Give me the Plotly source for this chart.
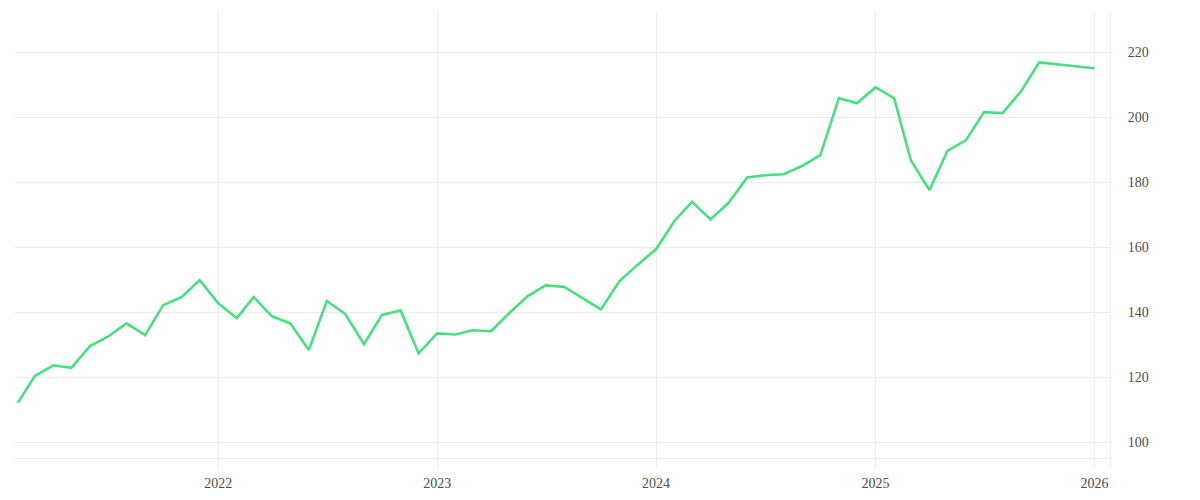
import plotly.graph_objects as go

dates = [
    "2021-02-01", "2021-03-01", "2021-04-01", "2021-05-01", "2021-06-01", "2021-07-01",
    "2021-08-01", "2021-09-01", "2021-10-01", "2021-11-01", "2021-12-01",
    "2022-01-01", "2022-02-01", "2022-03-01", "2022-04-01", "2022-05-01", "2022-06-01",
    "2022-07-01", "2022-08-01", "2022-09-01", "2022-10-01", "2022-11-01", "2022-12-01",
    "2023-01-01", "2023-02-01", "2023-03-01", "2023-04-01", "2023-05-01", "2023-06-01",
    "2023-07-01", "2023-08-01", "2023-10-01", "2023-11-01", "2023-12-01",
    "2024-01-01", "2024-02-01", "2024-03-01", "2024-04-01", "2024-05-01", "2024-06-01",
    "2024-07-01", "2024-08-01", "2024-09-01", "2024-10-01", "2024-11-01", "2024-12-01",
    "2025-01-01", "2025-02-01", "2025-03-01", "2025-04-01", "2025-05-01", "2025-06-01",
    "2025-07-01", "2025-08-01", "2025-09-01", "2025-10-01",
    "2026-01-01",
]
values = [
    112.1, 120.3, 123.6, 122.8, 129.5, 132.4,
    136.5, 132.9, 142.1, 144.6, 149.8,
    142.7, 138.1, 144.6, 138.6, 136.5, 128.3,
    143.4, 139.3, 130.1, 139.1, 140.5, 127.3,
    133.4, 133.1, 134.4, 134.1, 139.6, 144.9,
    148.2, 147.7, 140.8, 149.5, 154.5,
    159.3, 168.1, 173.9, 168.5, 173.6, 181.4,
    182.1, 182.4, 185.0, 188.3, 205.8, 204.2,
    209.1, 205.8, 186.6, 177.5, 189.6, 192.9,
    201.5, 201.2, 208.0, 216.8,
    215.0,
]
x_ticks = ["2022-01-01", "2023-01-01", "2024-01-01", "2025-01-01", "2026-01-01"]
x_tick_labels = ["2022", "2023", "2024", "2025", "2026"]
y_ticks = [100, 120, 140, 160, 180, 200, 220]

grid = "#ebebeb"
font = dict(family="Liberation Serif, DejaVu Serif, serif", size=14, color="#4d4d4d")

fig = go.Figure(
    go.Scatter(
        x=dates, y=values, mode="lines",
        line=dict(color="#4ade80", width=2.6),
        hoverinfo="x+y", showlegend=False,
    )
)

fig.update_layout(
    width=1200, height=500,
    margin=dict(l=7, r=98, t=4, b=40),
    paper_bgcolor="white", plot_bgcolor="white",
    font=font,
)
fig.update_xaxes(
    type="date",
    range=["2021-01-27", "2026-01-27"],
    tickvals=x_ticks, ticktext=x_tick_labels,
    showgrid=True, gridcolor=grid, gridwidth=1,
    zeroline=False,
    anchor="free", position=10 / 456,
    showline=True, linecolor=grid, linewidth=1,
    ticks="", ticklabelstandoff=12,
)
fig.update_yaxes(
    side="right",
    range=[92, 232.31],
    tickvals=y_ticks,
    showgrid=True, gridcolor=grid, gridwidth=1,
    zeroline=False,
    showline=True, linecolor=grid, linewidth=1,
    ticks="", ticklabelstandoff=14,
)

fig.write_html("out.html")
